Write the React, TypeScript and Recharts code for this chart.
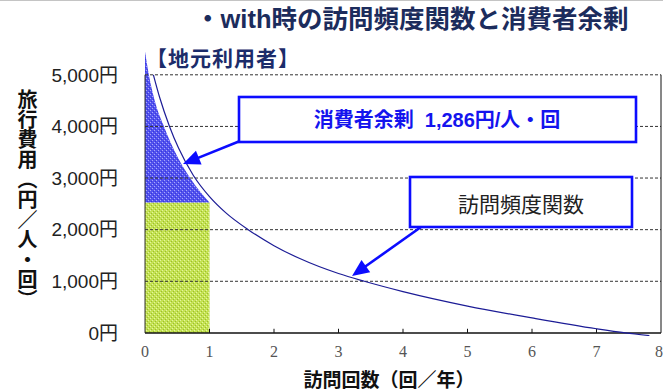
import React from 'react';
import {
  ComposedChart,
  Line,
  Area,
  XAxis,
  YAxis,
  ReferenceLine,
  ReferenceArea,
} from 'recharts';

// Axis ticks
const xTicks = [0, 1, 2, 3, 4, 5, 6, 7, 8];
const yTicks = [0, 1000, 2000, 3000, 4000, 5000];

// Visit-frequency (demand) curve: visits per year vs. travel cost per person-visit
const demandVisits = [0.13, 0.23, 0.38, 0.52, 0.75, 1.0, 1.25, 1.6, 2.0, 2.4, 3.0, 3.4, 4, 5, 6, 7, 7.45, 7.82];
const demandCost = [5000, 4550, 4000, 3580, 3050, 2640, 2330, 2000, 1690, 1440, 1150, 1000, 800, 520, 290, 80, 0, -52];

// Upper edge of the consumer-surplus region
const surplusVisits = [0, 0.06, 0.15, 0.3, 0.46, 0.7, 1.0];
const surplusCost = [5450, 5000, 4500, 3980, 3520, 3000, 2525];

// Current situation for local users
const tripCost = 2525;
const currentVisits = 1;
const consumerSurplus = 1286;

const demandData = demandVisits.map((v, i) => ({ visits: v, cost: demandCost[i] }));
const surplusData = surplusVisits.map((v, i) => ({ visits: v, band: [tripCost, surplusCost[i]] }));

const SANS = "'Liberation Sans', 'Noto Sans CJK JP', sans-serif";
const CJK = "'Noto Sans CJK JP', 'Liberation Sans', sans-serif";
const BLUE = '#0c0cff';

const withCommas = (n: number) => String(n).replace(/\B(?=(\d{3})+(?!\d))/g, ',');

function Arrow({ x1, y1, x2, y2 }: { x1: number; y1: number; x2: number; y2: number }) {
  const dx = x2 - x1;
  const dy = y2 - y1;
  const len = Math.sqrt(dx * dx + dy * dy);
  const ux = dx / len;
  const uy = dy / len;
  const headLen = 17;
  const half = 7.5;
  const bx = x2 - ux * headLen;
  const by = y2 - uy * headLen;
  const pts = `${x2},${y2} ${bx - uy * half},${by + ux * half} ${bx + uy * half},${by - ux * half}`;
  return (
    <g>
      <line x1={x1} y1={y1} x2={bx + ux * 2} y2={by + uy * 2} stroke={BLUE} strokeWidth={2.6} />
      <polygon points={pts} fill={BLUE} />
    </g>
  );
}

export default function App() {
  return (
    <div
      style={{
        position: 'absolute',
        left: 0,
        top: 0,
        width: 663,
        height: 390,
        background: '#fff',
        overflow: 'hidden',
      }}
    >
      <ComposedChart
        width={663}
        height={390}
        margin={{ top: 49, right: 2, bottom: 24, left: 45 }}
      >
        <defs>
          <pattern id="surplusFill" width="4" height="4" patternUnits="userSpaceOnUse">
            <rect width="4" height="4" fill="#5252ee" />
            <rect x="0" y="0" width="1" height="1" fill="#a8a8fa" />
            <rect x="2" y="2" width="1" height="1" fill="#a8a8fa" />
            <rect x="1" y="3" width="1" height="1" fill="#3636dc" />
            <rect x="3" y="1" width="1" height="1" fill="#3636dc" />
          </pattern>
          <pattern id="costFill" width="4" height="4" patternUnits="userSpaceOnUse">
            <rect width="4" height="4" fill="#c4e252" />
            <rect x="0" y="0" width="1" height="1" fill="#e4f4a0" />
            <rect x="2" y="2" width="1" height="1" fill="#e4f4a0" />
            <rect x="1" y="3" width="1" height="1" fill="#9cbc30" />
            <rect x="3" y="1" width="1" height="1" fill="#9cbc30" />
          </pattern>
        </defs>
        <XAxis
          dataKey="visits"
          type="number"
          domain={[0, 8]}
          ticks={xTicks}
          allowDataOverflow
          axisLine={false}
          tickLine={false}
          tickSize={0}
          tickMargin={10}
          height={30}
          tick={{ fontSize: 16, fontFamily: "'Liberation Serif', serif", fill: '#555' }}
        />
        <YAxis
          type="number"
          domain={[-60, 5500]}
          ticks={yTicks}
          allowDataOverflow
          axisLine={false}
          tickLine={false}
          tickSize={0}
          tickMargin={27}
          width={100}
          tickFormatter={(v: number) => `${withCommas(v)}円`}
          tick={{ fontSize: 19, fontFamily: SANS, fill: '#222' }}
        />
        <ReferenceArea
          x1={0}
          x2={currentVisits}
          y1={0}
          y2={tripCost}
          fill="url(#costFill)"
          fillOpacity={1}
          stroke="none"
        />
        <Area
          data={surplusData}
          dataKey="band"
          type="monotone"
          stroke="none"
          fill="url(#surplusFill)"
          fillOpacity={1}
          isAnimationActive={false}
        />
        {yTicks
          .filter((t) => t > 0)
          .map((t) => (
            <ReferenceLine
              key={`grid-${t}`}
              y={t}
              stroke="#333"
              strokeWidth={1}
              strokeDasharray="3 2"
            />
          ))}
        <ReferenceLine segment={[{ x: 0, y: 0 }, { x: 0, y: 5000 }]} stroke="#333" strokeWidth={1} />
        <ReferenceLine segment={[{ x: 8, y: 0 }, { x: 8, y: 5000 }]} stroke="#111" strokeWidth={1} />
        <ReferenceLine y={0} stroke="#111" strokeWidth={1.5} />
        {xTicks
          .filter((t) => t > 0 && t < 8)
          .map((t) => (
            <ReferenceLine
              key={`tick-${t}`}
              segment={[{ x: t, y: 0 }, { x: t, y: 80 }]}
              stroke="#111"
              strokeWidth={1}
            />
          ))}
        <Line
          data={demandData}
          dataKey="cost"
          type="monotone"
          stroke="#1c1c96"
          strokeWidth={1.2}
          dot={false}
          isAnimationActive={false}
        />
      </ComposedChart>

      <svg
        width={663}
        height={390}
        style={{ position: 'absolute', left: 0, top: 0, pointerEvents: 'none' }}
      >
        <line x1={0} y1={0.5} x2={663} y2={0.5} stroke="#c4c4c4" strokeWidth={1} />
        <text
          x={195}
          y={19}
          dominantBaseline="central"
          fontFamily={SANS}
          fontWeight="bold"
          fontSize={25.5}
          fill="#1c2c5c"
        >
          ・with時の訪問頻度関数と消費者余剰
        </text>
        <text
          x={146}
          y={57}
          dominantBaseline="central"
          fontFamily={CJK}
          fontWeight="bold"
          fontSize={21}
          letterSpacing={1}
          fill="#1c2c6a"
        >
          【地元利用者】
        </text>

        <rect x={239} y={97} width={397} height={45} fill="#fff" stroke={BLUE} strokeWidth={2.6} />
        <text
          x={437}
          y={120}
          textAnchor="middle"
          dominantBaseline="central"
          fontFamily={SANS}
          fontWeight="bold"
          fontSize={20}
          fill="#1414ee"
          style={{ whiteSpace: 'pre' }}
        >
          {`消費者余剰  ${withCommas(consumerSurplus)}円/人・回`}
        </text>
        <Arrow x1={240} y1={141} x2={183} y2={164} />

        <rect x={410} y={177} width={222} height={50} fill="#fff" stroke={BLUE} strokeWidth={2.6} />
        <text
          x={521}
          y={203}
          textAnchor="middle"
          dominantBaseline="central"
          fontFamily={CJK}
          fontSize={21}
          fill="#222"
        >
          訪問頻度関数
        </text>
        <Arrow x1={421} y1={227} x2={352} y2={276} />

        <text
          x={389}
          y={378}
          textAnchor="middle"
          dominantBaseline="central"
          fontFamily={CJK}
          fontWeight="bold"
          fontSize={19}
          fill="#111"
        >
          訪問回数（回／年）
        </text>
      </svg>

      <div
        style={{
          position: 'absolute',
          left: 17,
          top: 89,
          writingMode: 'vertical-rl',
          fontFamily: CJK,
          fontWeight: 'bold',
          fontSize: 20,
          lineHeight: '20px',
          color: '#111',
        }}
      >
        旅行費用（円／人・回）
      </div>
    </div>
  );
}
